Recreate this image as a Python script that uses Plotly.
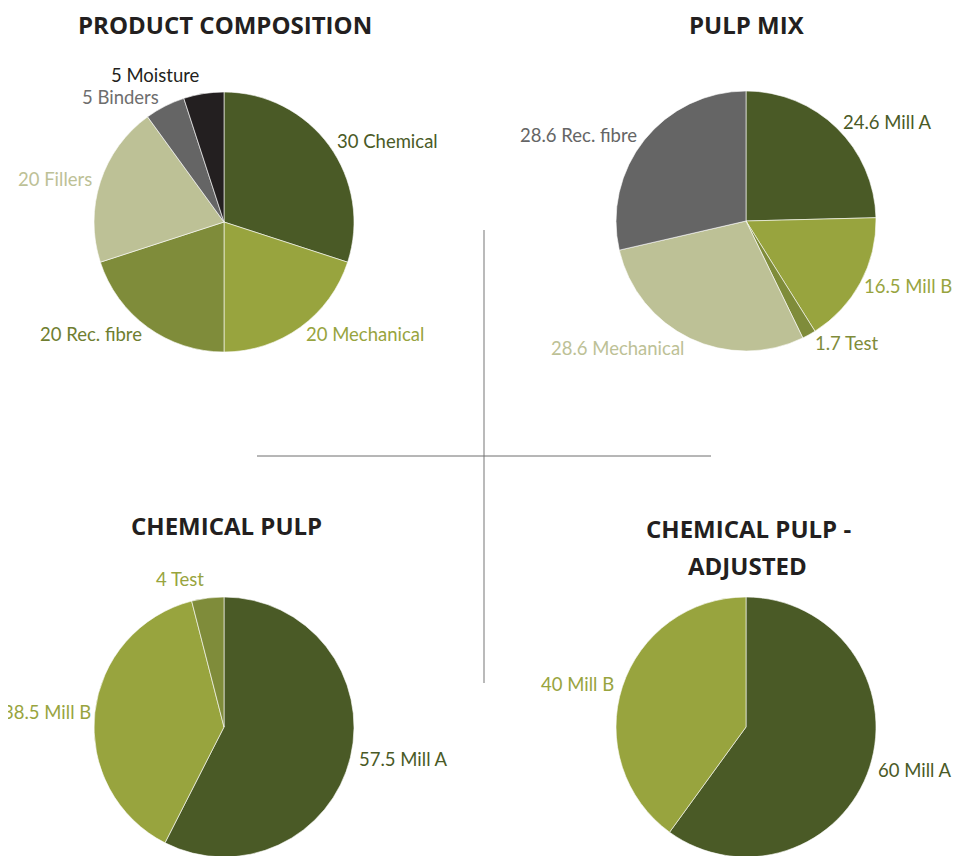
import math
import plotly.graph_objects as go

FONT = "Open Sans"
LABEL_FONT = "Lato"
LABEL_SIZE = 18.5
W, H = 961, 856
OFF = 8  # default page body margin

# Product composition
pc_labels = ["Chemical", "Mechanical", "Rec. fibre", "Fillers", "Binders", "Moisture"]
pc_values = [30, 20, 20, 20, 5, 5]
pc_colors = ["#4A5A26", "#98A43E", "#7F8C3A", "#BDC196", "#656565", "#231F20"]
pc_text_colors = ["#4A5A26", "#98A43E", "#6F7E30", "#BDC196", "#6E6E6E", "#231F20"]

# Pulp mix
pm_labels = ["Mill A", "Mill B", "Test", "Mechanical", "Rec. fibre"]
pm_values = [24.6, 16.5, 1.7, 28.6, 28.6]
pm_colors = ["#4A5A26", "#98A43E", "#7F8C3A", "#BDC196", "#656565"]
pm_text_colors = ["#4A5A26", "#98A43E", "#7F8C3A", "#BDC196", "#656565"]

# Chemical pulp
cp_labels = ["Mill A", "Mill B", "Test"]
cp_values = [57.5, 38.5, 4]
cp_colors = ["#4A5A26", "#98A43E", "#7F8C3A"]
cp_text_colors = ["#4A5A26", "#98A43E", "#98A43E"]

# Chemical pulp - adjusted
ca_labels = ["Mill A", "Mill B"]
ca_values = [60, 40]
ca_colors = ["#4A5A26", "#98A43E"]
ca_text_colors = ["#4A5A26", "#98A43E"]

fig = go.Figure()


def px_x(x):
    return (x - OFF) / W


def px_y(y):
    return 1 - (y - OFF) / H


def add_pie(labels, values, colors, tcolors, cx, cy, r):
    fig.add_trace(go.Pie(
        labels=labels, values=values, sort=False, direction="clockwise",
        rotation=0,
        marker=dict(colors=colors, line=dict(color="white", width=0.6)),
        textinfo="none",
        domain=dict(x=[px_x(cx - r), px_x(cx + r)], y=[px_y(cy + r), px_y(cy - r)]),
        showlegend=False, hoverinfo="label+value",
    ))
    total = sum(values)
    cum = 0.0
    for lab, v, c in zip(labels, values, tcolors):
        mid = (cum + v / 2) / total * 2 * math.pi
        cum += v
        s, co = math.sin(mid), math.cos(mid)
        d = r + 8 + 13 * co ** 16
        ax = cx + d * s
        ay = cy - d * co
        xa = "left" if s > 0.05 else ("right" if s < -0.05 else "center")
        text = f"{v:g} {lab}"
        if xa == "left":
            ax = min(ax, 958 - 0.465 * LABEL_SIZE * len(text))
        elif xa == "right":
            ax = max(ax, 0.45 * LABEL_SIZE * len(text))
        fig.add_annotation(text=text, x=px_x(ax), y=px_y(ay),
                           xref="paper", yref="paper", showarrow=False,
                           xanchor=xa, yanchor="middle", borderpad=0,
                           font=dict(family=LABEL_FONT, size=LABEL_SIZE, color=c))


add_pie(pc_labels, pc_values, pc_colors, pc_text_colors, 224, 222, 130)
add_pie(pm_labels, pm_values, pm_colors, pm_text_colors, 746, 221, 130)
add_pie(cp_labels, cp_values, cp_colors, cp_text_colors, 224, 727, 130)
add_pie(ca_labels, ca_values, ca_colors, ca_text_colors, 746, 727, 130)

titles = [
    ("PRODUCT COMPOSITION", 225, 24),
    ("PULP MIX", 747, 24),
    ("CHEMICAL PULP", 226, 525),
    ("CHEMICAL PULP -", 748, 528),
    ("ADJUSTED", 747, 565),
]
for t, x, y in titles:
    fig.add_annotation(text="<b>" + t + "</b>", x=px_x(x), y=px_y(y),
                       xref="paper", yref="paper", showarrow=False,
                       xanchor="center", yanchor="middle",
                       font=dict(family=FONT, size=24, color="#231F20"))

fig.add_shape(type="line", xref="paper", yref="paper",
              x0=px_x(484), x1=px_x(484), y0=px_y(230), y1=px_y(683),
              line=dict(color="#8C8C8C", width=1.2))
fig.add_shape(type="line", xref="paper", yref="paper",
              x0=px_x(257), x1=px_x(711), y0=px_y(456), y1=px_y(456),
              line=dict(color="#6E6E6E", width=1))

fig.update_layout(width=W, height=H, margin=dict(l=0, r=0, t=0, b=0),
                  paper_bgcolor="white", plot_bgcolor="white",
                  font=dict(family=FONT))
fig.write_html("out.html")
